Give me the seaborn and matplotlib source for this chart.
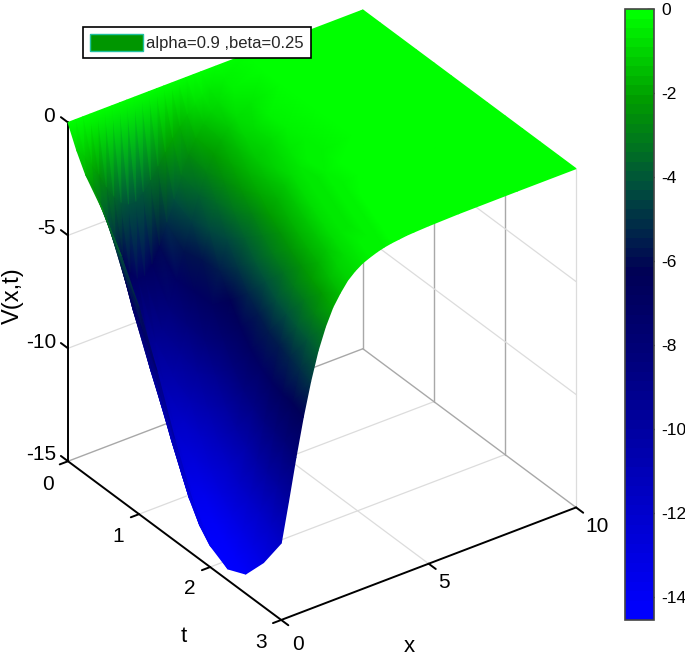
import numpy as np
import matplotlib
matplotlib.use('Agg')
import matplotlib.pyplot as plt
from matplotlib.colors import ListedColormap
from matplotlib.patches import Patch
from mpl_toolkits.mplot3d import proj3d
import seaborn as sns

# Values
x_values = [0, 0.25, 0.5, 0.75, 1, 1.25, 1.5, 1.75, 2, 2.25, 2.5, 2.75, 3, 3.25, 3.5, 3.75, 4, 4.25, 4.5, 5, 6, 8, 10]
t_values = [0, 0.125, 0.25, 0.5, 0.75, 1, 1.25, 1.5, 1.75, 2, 2.25, 2.5, 2.75, 3]

# depth of the surface (-V), one row per t value
depth_rows = [
    [0] * 23,
    [0.96, 1.32, 1.80, 2.38, 3.06, 3.60, 4.00, 4.20, 4.20, 3.90, 3.50, 3.00, 2.50, 2.00, 1.60, 1.20, 0.90, 0.65, 0.50, 0.28, 0.08, 0.01, 0],
    [1.74, 2.38, 3.21, 4.18, 5.20, 6.10, 6.80, 7.20, 7.20, 6.80, 6.10, 5.20, 4.30, 3.40, 2.60, 2.00, 1.50, 1.10, 0.80, 0.42, 0.13, 0.01, 0],
    [2.80, 3.78, 4.92, 6.24, 7.60, 8.60, 9.20, 9.40, 9.00, 8.20, 7.10, 5.90, 4.70, 3.70, 2.80, 2.10, 1.60, 1.20, 0.88, 0.46, 0.14, 0.01, 0],
    [4.16, 5.41, 6.86, 8.36, 9.71, 10.5, 10.7, 10.3, 9.40, 8.30, 7.00, 5.70, 4.50, 3.45, 2.60, 1.95, 1.45, 1.08, 0.78, 0.42, 0.13, 0.01, 0],
    [5.85, 7.43, 9.04, 10.51, 11.53, 11.9, 11.6, 10.8, 9.70, 8.40, 7.00, 5.60, 4.35, 3.30, 2.45, 1.80, 1.33, 0.95, 0.70, 0.38, 0.11, 0.01, 0],
    [8.05, 9.80, 11.39, 12.50, 12.9, 12.58, 11.7, 10.6, 9.20, 7.70, 6.20, 4.85, 3.70, 2.75, 2.00, 1.50, 1.08, 0.78, 0.57, 0.30, 0.08, 0.01, 0],
    [10.49, 12.19, 13.37, 13.8, 13.46, 12.5, 11.3, 9.90, 8.30, 6.70, 5.30, 4.05, 3.00, 2.20, 1.62, 1.15, 0.84, 0.60, 0.45, 0.24, 0.07, 0.01, 0],
    [12.63, 13.86, 14.3, 13.94, 12.9, 11.7, 10.2, 8.60, 7.00, 5.50, 4.20, 3.10, 2.30, 1.70, 1.20, 0.87, 0.63, 0.47, 0.34, 0.18, 0.05, 0.01, 0],
    [14.05, 14.5, 14.14, 13.1, 11.8, 10.3, 8.70, 7.10, 5.60, 4.30, 3.20, 2.35, 1.72, 1.22, 0.88, 0.64, 0.48, 0.35, 0.25, 0.14, 0.04, 0, 0],
    [14.5, 14.14, 13.05, 11.7, 10.2, 8.60, 7.00, 5.50, 4.20, 3.10, 2.30, 1.70, 1.20, 0.87, 0.63, 0.47, 0.34, 0.25, 0.18, 0.09, 0.02, 0, 0],
    [14.14, 13.05, 11.6, 10.0, 8.30, 6.80, 5.30, 4.05, 3.00, 2.20, 1.60, 1.15, 0.84, 0.60, 0.46, 0.33, 0.24, 0.18, 0.13, 0.07, 0.02, 0, 0],
    [13.05, 11.6, 9.86, 8.05, 6.50, 5.10, 3.90, 2.90, 2.10, 1.55, 1.10, 0.80, 0.58, 0.44, 0.32, 0.23, 0.17, 0.13, 0.09, 0.05, 0.01, 0, 0],
    [11.6, 9.86, 8.05, 6.38, 4.93, 3.70, 2.76, 2.03, 1.52, 1.09, 0.80, 0.58, 0.44, 0.32, 0.23, 0.17, 0.13, 0.09, 0.07, 0.04, 0.01, 0, 0],
]

x_ticks = [0, 5, 10]
t_ticks = [0, 1, 2, 3]
z_ticks = [0, -5, -10, -15]
bar_ticks = [0, -2, -4, -6, -8, -10, -12, -14]
# colours from the lowest value up to 0
palette_colors = ['#0000ff', '#0000d4', '#0000a8', '#00007a', '#000055', '#00503c', '#009b00', '#00ff00']

sns.set_theme(style='white')
plt.rcParams['font.family'] = ['Liberation Sans', 'DejaVu Sans']
plt.rcParams['axes.unicode_minus'] = False

W, H = 685, 658
fig = plt.figure(figsize=(W / 100, H / 100), dpi=100)

# Axes placed so the middle of the box falls where it is in the picture
ax = fig.add_axes([-6.6 / W, 14.4 / H, 640 / W, 640 / H], projection='3d')
ax.set_proj_type('ortho')
ax.view_init(elev=32.2, azim=-125.6)
ax.set_box_aspect((1, 1.01, 1.104), zoom=0.99)
ax.set_xlim(0, 10)
ax.set_ylim(3, 0)
ax.set_zlim(-15, 0)
ax.set_axis_off()
ax.computed_zorder = False

cmap = ListedColormap(sns.blend_palette(palette_colors, 64))
X, T = np.meshgrid(x_values, t_values)
V = -np.array(depth_rows)

soft = dict(color='#dcdcdc', lw=0.9, zorder=1)
mid = dict(color='#a8a8a8', lw=1.0, zorder=1)
dark = dict(color='black', lw=1.4, zorder=5)

# Grid on the floor and the two back walls
for t in t_ticks[1:-1]:
    ax.plot([0, 10], [t, t], [-15, -15], **soft)
    ax.plot([10, 10], [t, t], [-15, 0], **mid)
for x in x_ticks[1:-1]:
    ax.plot([x, x], [0, 3], [-15, -15], **soft)
    ax.plot([x, x], [0, 0], [-15, 0], **soft)
for z in z_ticks[1:-1]:
    ax.plot([0, 10], [0, 0], [z, z], **soft)
    ax.plot([10, 10], [0, 3], [z, z], **soft)
ax.plot([0, 10], [0, 0], [-15, -15], **mid)
ax.plot([10, 10], [0, 3], [-15, -15], **mid)
ax.plot([10, 10], [0, 0], [-15, 0], **mid)
ax.plot([10, 10], [3, 3], [-15, 0], **soft)

# Black axis lines and tick marks
ax.plot([0, 0], [0, 0], [-15, 0], **dark)
ax.plot([0, 0], [0, 3], [-15, -15], **dark)
ax.plot([0, 10], [3, 3], [-15, -15], **dark)
for z in z_ticks:
    ax.plot([0, 0], [0, -0.1], [z, z], **dark)
for t in t_ticks:
    ax.plot([0, -0.28], [t, t], [-15, -15], **dark)
for x in x_ticks:
    ax.plot([x, x], [3, 3.1], [-15, -15], **dark)

# The surface: table points go through the 3D projection, then a 2D overlay
# draws them with smooth shading, triangles sorted back to front
fig.canvas.draw()
nx, nt = len(x_values), len(t_values)
triangles = []
for j in range(nt - 1):
    for i in range(nx - 1):
        a = j * nx + i
        b = a + 1
        c = a + nx
        d = c + 1
        triangles.append([a, b, c])
        triangles.append([b, d, c])
triangles = np.array(triangles)
px, py, pz = proj3d.proj_transform(X.ravel(), T.ravel(), V.ravel(), ax.get_proj())
screen = ax.transData.transform(np.column_stack([px, py]))
triangles = triangles[np.argsort(-pz[triangles].mean(axis=1))]

overlay = fig.add_axes([0, 0, 1, 1], zorder=2)
overlay.set_xlim(0, W)
overlay.set_ylim(0, H)
overlay.set_axis_off()
overlay.patch.set_alpha(0)
surf = overlay.tripcolor(screen[:, 0], screen[:, 1], triangles, V.ravel(), shading='gouraud',
                         cmap=cmap, vmin=-14.55, vmax=0)

# Tick labels, positions in pixels of the picture
def label(px, py, s, size=15, **kw):
    fig.text(px / W, 1 - py / H, s, ha='center', va='center', fontsize=size, color='black', **kw)

for s, lx, ly in zip(z_ticks, [49, 46, 41, 41], [116, 229, 342, 455]):
    label(lx, ly, str(s))
for s, lx, ly in zip(t_ticks, [48, 118, 190, 261], [485, 536, 589, 642]):
    label(lx, ly, str(s))
for s, lx, ly in zip(x_ticks, [298, 444, 597], [645, 583, 527]):
    label(lx, ly, str(s))
label(184, 637, 't', size=16)
label(409, 647, 'x', size=16)
label(13, 296, 'V(x,t)', size=17, rotation=90)

# Colour bar
cax = fig.add_axes([625 / W, 1 - 620 / H, 29 / W, 611 / H], zorder=3)
cb = fig.colorbar(surf, cax=cax, ticks=bar_ticks)
cb.ax.tick_params(direction='in', length=5, width=1, pad=5, labelsize=12.5, colors='black', right=True)
cb.outline.set_edgecolor('#444444')
cb.outline.set_linewidth(1.2)

# Legend
leg = fig.legend(handles=[Patch(facecolor='#009600', edgecolor='#20c0a0', label='alpha=0.9 ,beta=0.25')],
                 loc='upper left', bbox_to_anchor=(83 / W, 1 - 27 / H), fancybox=False, framealpha=1,
                 edgecolor='black', fontsize=12, handlelength=3.2, handleheight=1.26, handletextpad=0.2,
                 borderpad=0.4, borderaxespad=0)
leg.set_zorder(5)
leg.get_frame().set_linewidth(1.2)

plt.savefig('out.png', dpi=100)
